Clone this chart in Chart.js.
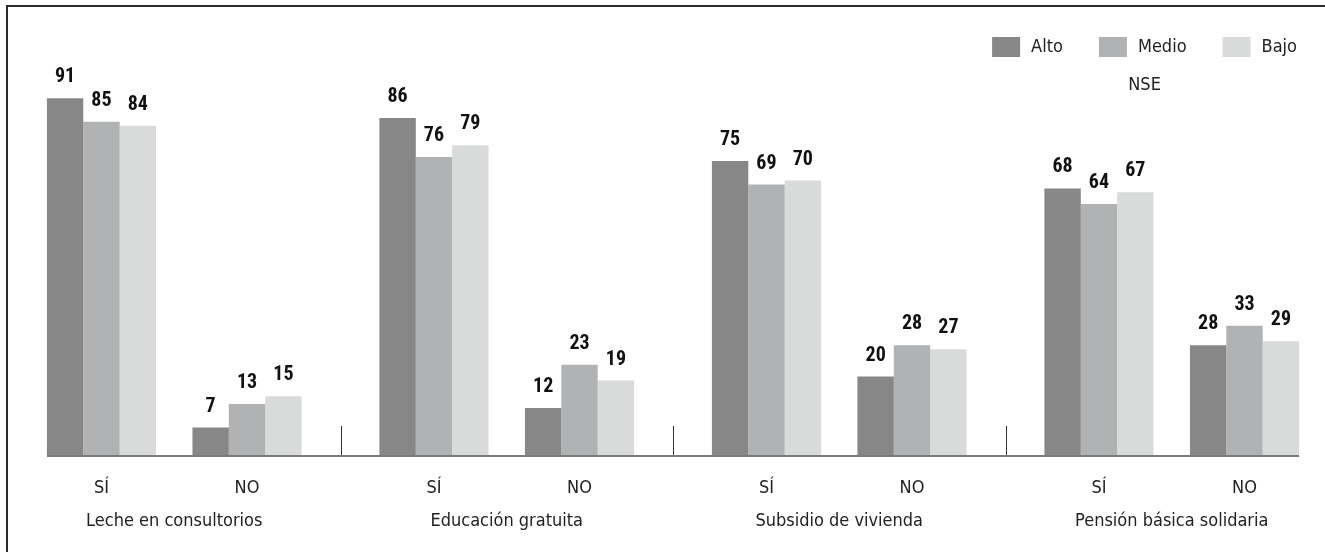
<!DOCTYPE html>
<html lang="es">
<head>
<meta charset="utf-8">
<title>Beneficios sociales por NSE</title>
<script src="https://cdn.jsdelivr.net/npm/chart.js@4.4.1/dist/chart.umd.min.js"></script>
<style>
    html, body { margin: 0; padding: 0; background: #fff; overflow: hidden; }
    .chart-wrap { position: relative; width: 1340px; height: 552px; }
    .frame {
        position: absolute; left: 6px; top: 5px; right: 0; bottom: 0;
        border-left: 2px solid #2b2b2b; border-top: 2px solid #2b2b2b;
        pointer-events: none;
    }
</style>
</head>
<body>
<div class="chart-wrap">
    <canvas id="nseChart"></canvas>
    <div class="frame"></div>
</div>
<script>
// Data
const groups = ['Leche en consultorios', 'Educación gratuita', 'Subsidio de vivienda', 'Pensión básica solidaria'];
const answers = ['SÍ', 'NO'];
const levels = ['Alto', 'Medio', 'Bajo'];
const legendTitle = 'NSE';

const altoSi = [91, 86, 75, 68];
const medioSi = [85, 76, 69, 64];
const bajoSi = [84, 79, 70, 67];
const altoNo = [7, 12, 20, 28];
const medioNo = [13, 23, 28, 33];
const bajoNo = [15, 19, 27, 29];

const colors = ['#878787', '#b1b2b3', '#d9dbdb'];
const FONT = "'DejaVu Sans Condensed', 'Liberation Sans Narrow', Roboto, sans-serif";
const NUM_FONT = "bold condensed 20px Roboto, 'DejaVu Sans Condensed', sans-serif";

// SÍ bars, an empty slot, then NO bars inside each group
function buildDatasets() {
    const si = [altoSi, medioSi, bajoSi].map((data, i) => ({
        label: levels[i], data, backgroundColor: colors[i], answer: 0
    }));
    const no = [altoNo, medioNo, bajoNo].map((data, i) => ({
        label: levels[i], data, backgroundColor: colors[i], answer: 1
    }));
    const spacer = { label: '', data: groups.map(() => null), backgroundColor: 'transparent', spacer: true };
    return [...si, spacer, ...no];
}

const decorations = {
    id: 'decorations',
    afterDatasetsDraw(chart) {
        const { ctx, scales: { x, y } } = chart;
        const base = y.getPixelForValue(0);
        const sets = chart.data.datasets;
        const lastIdx = sets.length - 1;
        const first = chart.getDatasetMeta(0).data[0];
        const last = chart.getDatasetMeta(lastIdx).data[groups.length - 1];

        ctx.save();
        // axis line under the bars
        ctx.strokeStyle = '#7b7b7b';
        ctx.lineWidth = 2;
        ctx.beginPath();
        ctx.moveTo(first.x - first.width / 2, base + 1);
        ctx.lineTo(last.x + last.width / 2, base + 1);
        ctx.stroke();

        // short separators between groups
        ctx.strokeStyle = '#333';
        ctx.lineWidth = 1;
        for (let i = 1; i < groups.length; i++) {
            const sx = Math.round((x.getPixelForValue(i - 1) + x.getPixelForValue(i)) / 2) + 0.5;
            ctx.beginPath();
            ctx.moveTo(sx, base - 29);
            ctx.lineTo(sx, base);
            ctx.stroke();
        }

        // value labels
        ctx.fillStyle = '#111';
        ctx.font = NUM_FONT;
        ctx.textAlign = 'center';
        ctx.textBaseline = 'alphabetic';
        sets.forEach((ds, di) => {
            if (ds.spacer) return;
            chart.getDatasetMeta(di).data.forEach((bar, j) => {
                ctx.fillText(String(ds.data[j]), bar.x, bar.y - 16);
            });
        });

        // SÍ / NO under each sub-group
        ctx.fillStyle = '#222';
        ctx.font = '18px ' + FONT;
        ctx.textBaseline = 'middle';
        groups.forEach((g, j) => {
            answers.forEach((a, k) => {
                const idx = sets.map((d, i) => i).filter(i => sets[i].answer === k);
                const left = chart.getDatasetMeta(idx[0]).data[j];
                const right = chart.getDatasetMeta(idx[idx.length - 1]).data[j];
                ctx.fillText(a, (left.x + right.x) / 2, 488);
            });
        });
        ctx.restore();
    },
    afterDraw(chart) {
        // legend, right aligned at the top
        const { ctx } = chart;
        const boxW = 28, boxH = 20, gap = 11, itemGap = 36, right = 1297, top = 37;
        ctx.save();
        ctx.font = '18px ' + FONT;
        ctx.textBaseline = 'middle';
        ctx.textAlign = 'left';
        const widths = levels.map(l => boxW + gap + ctx.measureText(l).width);
        const total = widths.reduce((a, b) => a + b, 0) + itemGap * (levels.length - 1);
        let cx = right - total;
        const start = cx;
        levels.forEach((l, i) => {
            ctx.fillStyle = colors[i];
            ctx.fillRect(cx, top, boxW, boxH);
            ctx.fillStyle = '#222';
            ctx.fillText(l, cx + boxW + gap, top + boxH / 2);
            cx += widths[i] + itemGap;
        });
        ctx.textAlign = 'center';
        ctx.fillText(legendTitle, (start + right) / 2, top + boxH + 28);
        ctx.restore();
    }
};

new Chart(document.getElementById('nseChart'), {
    type: 'bar',
    data: {
        labels: groups,
        datasets: buildDatasets()
    },
    options: {
        responsive: true,
        maintainAspectRatio: false,
        animation: false,
        layout: { padding: { top: 63, left: 8, right: 2, bottom: 0 } },
        datasets: {
            bar: { categoryPercentage: 0.766, barPercentage: 1, borderWidth: 0 }
        },
        plugins: {
            legend: { display: false },
            tooltip: { enabled: false }
        },
        scales: {
            x: {
                grid: { display: false, drawTicks: false },
                border: { display: false },
                ticks: {
                    color: '#222',
                    padding: 56,
                    font: { family: FONT, size: 18 }
                },
                afterFit: scale => { scale.height = 97; }
            },
            y: {
                display: false,
                min: 0,
                max: 100
            }
        }
    },
    plugins: [decorations]
});
</script>
</body>
</html>
